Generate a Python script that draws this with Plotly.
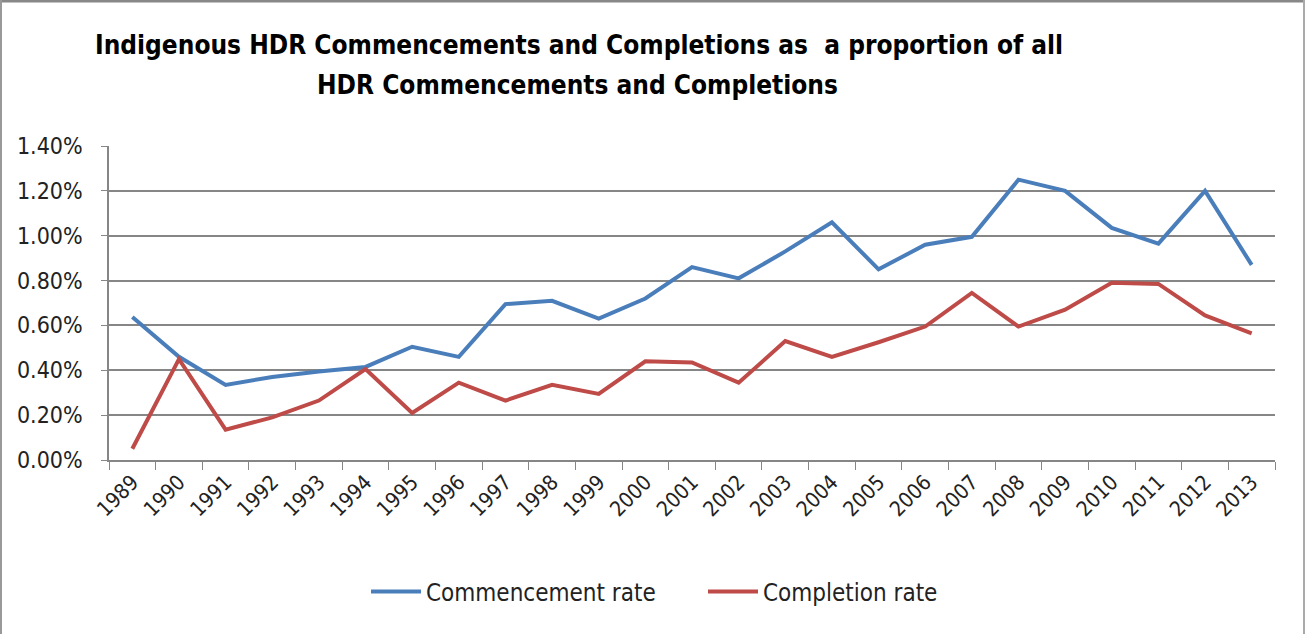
import plotly.graph_objects as go

# years on the category axis
years = [str(y) for y in range(1989, 2014)]

# rates (fractions, shown as %)
commencement_rate = [0.00638, 0.0046, 0.00335, 0.0037, 0.00395, 0.00415, 0.00505, 0.0046,
                     0.00695, 0.0071, 0.0063, 0.0072, 0.0086, 0.0081, 0.0093, 0.0106,
                     0.0085, 0.0096, 0.00995, 0.0125, 0.0120, 0.01035, 0.00965, 0.0120, 0.0087]
completion_rate = [0.0005, 0.0045, 0.00135, 0.0019, 0.00265, 0.00405, 0.0021, 0.00345,
                   0.00265, 0.00335, 0.00295, 0.0044, 0.00435, 0.00345, 0.0053, 0.0046,
                   0.00525, 0.00595, 0.00745, 0.00595, 0.0067, 0.0079, 0.00785, 0.00645, 0.00565]

font_fam = 'DejaVu Sans Condensed, Roboto, sans-serif'
W, H = 1305, 634
ml, mr, mt, mb = 109, 30, 146, 174
pw, ph = W - ml - mr, H - mt - mb

def px_x(x):
    return (x - ml) / pw

def px_y(y):
    return (H - mb - y) / ph

fig = go.Figure()
fig.add_trace(go.Scatter(x=years, y=commencement_rate, mode='lines', name='Commencement rate',
                         line=dict(color='#4A7EBB', width=4)))
fig.add_trace(go.Scatter(x=years, y=completion_rate, mode='lines', name='Completion rate',
                         line=dict(color='#BE4B48', width=4)))

fig.update_layout(
    width=W, height=H,
    margin=dict(l=ml, r=mr, t=mt, b=mb),
    paper_bgcolor='white', plot_bgcolor='white',
    font=dict(family=font_fam, color='#222', size=18),
    showlegend=True,
    legend=dict(orientation='h', x=px_x(366), xanchor='left', y=px_y(592), yanchor='middle',
                font=dict(size=24), entrywidth=272, itemwidth=50),
)
fig.update_xaxes(type='category', range=[-0.5, 24.5], showgrid=False, showline=True,
                 linecolor='#868686', linewidth=1.5, ticks='outside', tickson='boundaries',
                 ticklen=8, tickcolor='#868686', tickangle=-45, tickfont=dict(size=21))
fig.update_yaxes(range=[0, 0.014], dtick=0.002, tickformat='.2%', showgrid=True,
                 gridcolor='#868686', gridwidth=1.5, showline=True, linecolor='#868686',
                 linewidth=1.5, ticks='outside', ticklen=6, tickcolor='#868686',
                 ticklabelstandoff=14, tickfont=dict(size=23), zeroline=False)

fig.add_annotation(text='<b>Indigenous HDR Commencements and Completions as  a proportion of all</b>',
                   xref='paper', yref='paper', x=px_x(579), y=px_y(45), showarrow=False,
                   xanchor='center', yanchor='middle', font=dict(size=26, color='black'))
fig.add_annotation(text='<b>HDR Commencements and Completions</b>',
                   xref='paper', yref='paper', x=px_x(577), y=px_y(85), showarrow=False,
                   xanchor='center', yanchor='middle', font=dict(size=26, color='black'))

# outer frame of the chart
fig.add_shape(type='line', xref='paper', yref='paper', x0=px_x(0), x1=px_x(W), y0=px_y(1), y1=px_y(1),
              line=dict(color='#888', width=3))
fig.add_shape(type='line', xref='paper', yref='paper', x0=px_x(1), x1=px_x(1), y0=px_y(0), y1=px_y(H),
              line=dict(color='#999', width=2))
fig.add_shape(type='line', xref='paper', yref='paper', x0=px_x(1304), x1=px_x(1304), y0=px_y(0), y1=px_y(H),
              line=dict(color='#aaa', width=2))

# drop the page margin so the figure sits at the window's top-left corner
fig.write_html("out.html", post_script="document.body.style.margin='0';",
               config={'displayModeBar': False})
